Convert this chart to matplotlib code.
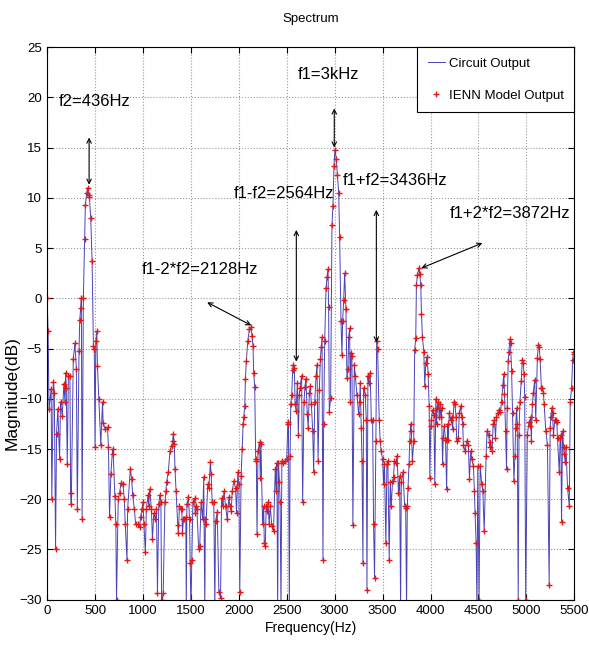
import matplotlib.pyplot as plt

plt.rcParams['font.family'] = ['Liberation Sans', 'DejaVu Sans']

# spectrum (Hz, dB); circuit and model outputs overlap
freq_hz = [
    0, 10, 20, 42, 49, 65, 75, 88, 98, 112, 130, 140, 158, 175, 186, 193, 200, 210, 222, 238,
    245, 252, 273, 290, 305, 315, 333, 340, 350, 357, 365, 378, 392, 399, 413, 423, 434, 441, 455, 469,
    483, 492, 500, 508, 518, 525, 540, 560, 578, 584, 605, 630, 640, 651, 665, 683, 690, 707, 717, 724,
    742, 756, 770, 791, 805, 815, 833, 840, 868, 882, 893, 910, 924,
    947, 965, 975, 989, 1000, 1010, 1025, 1035, 1053, 1060, 1070, 1088, 1099, 1113, 1130, 1141, 1151, 1165, 1176, 1187,
    1195, 1200, 1211, 1229, 1240, 1246, 1264, 1282, 1299, 1310, 1317, 1327, 1334, 1345, 1363, 1370, 1380, 1398, 1405, 1412,
    1422, 1433, 1447, 1452, 1458, 1475, 1486, 1493, 1500, 1510, 1521, 1539, 1546, 1553, 1563, 1581, 1592, 1606, 1623, 1634,
    1645, 1651, 1658, 1676, 1687, 1704, 1711, 1722, 1739, 1750, 1757, 1775, 1792, 1810, 1820,
    1834, 1845, 1862, 1879, 1897, 1907, 1921, 1931, 1948, 1966, 1976, 1990, 2000, 2010, 2024, 2035, 2045, 2052, 2062, 2069,
    2079, 2093, 2110, 2128, 2138, 2148, 2155, 2166, 2176, 2183, 2190, 2200, 2217, 2224, 2231, 2248, 2259, 2266, 2276, 2286,
    2293, 2304, 2317, 2328, 2345, 2362, 2380, 2390, 2397, 2405, 2414, 2424, 2431, 2440, 2449, 2466, 2483, 2500, 2511, 2518,
    2527, 2535, 2542, 2552, 2562, 2569, 2580, 2587, 2597, 2611, 2621, 2631, 2638, 2655, 2666, 2680, 2690, 2700, 2714, 2724,
    2736, 2747, 2757, 2771, 2781, 2792, 2806, 2816, 2827, 2840, 2851, 2861, 2868, 2878, 2885, 2896, 2910, 2920, 2930, 2937,
    2944, 2958, 2972, 2982, 2993, 3003, 3017, 3028, 3042, 3052, 3066, 3076, 3083, 3094, 3104, 3118, 3128, 3139, 3146, 3156,
    3163, 3170, 3180, 3190, 3205, 3215, 3232, 3250, 3260, 3267, 3278, 3285, 3295, 3302, 3319, 3330, 3337, 3347, 3354, 3371,
    3382, 3396, 3406, 3416, 3430, 3438, 3448, 3465, 3475, 3486, 3500, 3510, 3520, 3534, 3545, 3555, 3569, 3580, 3590, 3604,
    3614, 3624, 3638, 3652, 3666, 3678, 3688, 3695, 3713, 3730, 3741, 3750, 3758, 3765, 3776, 3783, 3793, 3800, 3811, 3825,
    3835, 3846, 3853, 3864, 3878, 3888, 3898, 3906, 3916, 3930, 3940, 3951, 3965, 3975, 3986, 3993, 4003, 4010, 4021, 4035,
    4045, 4056, 4063, 4070, 4080, 4091, 4098, 4108, 4115, 4126, 4133, 4143, 4157, 4168, 4178, 4185, 4196, 4210, 4220, 4231,
    4245, 4255, 4266, 4273, 4290, 4301, 4315, 4325, 4336, 4343, 4360, 4378, 4395, 4406, 4420, 4430, 4448, 4458, 4465, 4476,
    4485, 4493, 4507, 4518, 4535, 4546, 4560, 4580, 4590, 4608, 4618, 4625, 4643, 4653, 4667, 4678, 4688, 4703, 4713, 4730,
    4741, 4755, 4765, 4772, 4783, 4793, 4800, 4811, 4818, 4828, 4835, 4846, 4856, 4870, 4881, 4888, 4898, 4905, 4915, 4923,
    4933, 4947, 4958, 4968, 4975, 4983, 4993, 5010, 5028, 5038, 5045, 5052, 5063, 5073, 5087, 5098, 5115, 5126, 5133, 5143,
    5157, 5168, 5178, 5185, 5203, 5220, 5238, 5248, 5255, 5266, 5273, 5283, 5297, 5307, 5318, 5325, 5343, 5353, 5360, 5367,
    5378, 5388, 5395, 5406, 5413, 5430, 5448, 5458, 5472, 5483, 5493, 5500,
]
mag_db = [
    0, -3.3, -11, -9, -20, -8.3, -9.4, -25, -13.5, -11, -16, -10.3, -11.7, -8.5, -10.3, -7.4, -8.9, -16.5, -7.7, -7.7,
    -19.4, -20.5, -6, -4.5, -7, -21, -5.2, -2.2, -1.0, 0, -22, 0, 5.9, 9.3, 10.5, 11.0, 10.3, 10.1, 8, 3.7,
    -4.7, -5, -14.8, -4.3, -3.3, -6.7, -10, -14.6, -10.3, -12.4, -13, -12.8, -14.8, -21.8, -17.5, -15, -15.5, -19.7, -22.5, -30,
    -20, -19.4, -18.4, -18.5, -20, -22.5, -26, -21, -17, -18, -19.6, -21, -22.5,
    -22.5, -22.8, -21.8, -21, -20.3, -22.5, -25.3, -21, -19.6, -20.7, -19, -21, -24, -21.4, -22, -21, -29.3, -20.5, -19.6, -20.3,
    -31, -30, -29.3, -20.3, -19.2, -18.3, -17.3, -15.2, -14.7, -14.2, -13.5, -14.5, -17, -19.2, -22.6, -23.4, -20.7, -21, -21, -23.4,
    -22, -22, -21.8, -31, -20.5, -19.8, -22, -26.3, -31, -26, -20.3, -19.9, -21.4, -20.7, -21, -25, -24.7, -20.3, -22, -17.8,
    -31, -22, -22.5, -18.5, -18.9, -16.3, -17.5, -20.3, -20.3, -31, -22.2, -21.3, -29.2, -29.8, -19.9,
    -20.7, -19.2, -20.7, -22, -19.8, -20.7, -21.2, -19.2, -18.2, -18.9, -21.4, -17.3, -18.5, -29.2, -17.7, -15, -12.5, -11.8, -10.7, -8,
    -6.2, -4.3, -3.1, -2.9, -3.8, -4.7, -7.4, -8.8, -16, -16.2, -23.5, -15.2, -14.3, -17.9, -14.5, -22.5, -20.7, -24.4, -24.7, -20.7,
    -21.2, -20.3, -22.5, -20.7, -22.7, -23.2, -17, -19.2, -16.4, -31, -16.4, -18.3, -20.3, -31, -16.2, -16.4, -16.2, -16, -12.5, -12.3,
    -31, -15.7, -10.5, -9.6, -7.1, -6.6, -6.9, -10.5, -11.2, -8.4, -13.6, -9.6, -8.9, -7.7, -20.3, -10.3, -8.8, -8, -11.5, -12.9,
    -9.4, -8.7, -10.5, -13.2, -17.3, -10.3, -7.7, -6.6, -16.2, -9.1, -6, -4.8, -3.9, -26, -12.5, -4.3, 1, 2.1, 2.9, -0.9,
    -11.3, -9.9, 7.3, 9.2, 13.2, 14.8, 13.9, 12.3, 10.5, 6.1, -2.3, -5.6, -2.3, -0.2, 2.5, -1.1, -7.9, -7, -3.9, -3,
    -10.3, -5.4, -5.7, -22.6, -6.6, -7.7, -9.6, -11.5, -10.3, -8.4, -12.9, -16.2, -26.3, -8.9, -9.6, -12.1, -29, -7.7, -8.4, -7.4,
    -12.1, -12.1, -22.5, -27.8, -14.2, -4.3, -5, -12.1, -14.2, -15.2, -16, -18.5, -16.5, -24.4, -16.5, -16.2, -26, -18.3, -20.7, -18.2,
    -17.8, -16.2, -16.4, -15.7, -19.4, -17.7, -31, -18.3, -17.3, -20.7, -20.9, -31, -20.7, -18.9, -16.5, -14.2, -12.5, -13.2, -16.2, -14.2,
    -5.1, -4, 1.3, 2.3, 3, 2.4, 1.3, -1.6, -3.9, -5.3, -8.7, -6.4, -5.8, -7.5, -10.7, -17.9, -12.7, -12.1, -11.1, -11.6,
    -18.5, -10, -12.5, -10.9, -10.3, -11.8, -10.5, -11.8, -10.9, -16.5, -13.9, -12.7, -14.1, -19, -12.5, -14.1, -11.4, -12.1, -11.8, -13,
    -10.3, -10.5, -11.8, -14.2, -13.9, -11.4, -10.7, -11.8, -12.5, -14.6, -15.2, -14.2, -14.6, -18, -15.2, -16, -16.7, -19.2, -21.4, -24.4,
    -31, -16.7, -30, -16.7, -18.5, -19.2, -23.2, -15.7, -13.2, -13.6, -14.8, -14.3, -15.2, -12.5, -12.1, -13.9, -11.8, -11.4, -11.1, -11.3,
    -10.3, -8.6, -7.5, -9.5, -13.2, -17, -10.9, -6.2, -5.3, -4.1, -4.5, -7.2, -11.4, -18.2, -15.7, -12.9, -10.9, -12.5, -30, -13.6,
    -10.3, -8.2, -6.1, -6.4, -7.5, -9.8, -30, -13.6, -12.3, -12.7, -11.8, -14.2, -10.5, -9.4, -8.1, -12.1, -5.9, -4.6, -4.8, -6,
    -8.9, -8.9, -9.4, -10.5, -13.2, -14.6, -28.5, -12.9, -11.8, -10.9, -11.4, -13.6, -12.1, -12.1, -12.3, -13.9, -17.3, -13.9, -13.6, -22.3,
    -13.2, -14.8, -15.5, -16.3, -14.8, -18.9, -20.7, -10.3, -8.9, -6.1, -5.3, -5.5,
]

# annotation labels: (text, x, y) and arrows: (x_start, y_start, x_end, y_end)
labels = [
    ("f2=436Hz", 500, 19.6),
    ("f1=3kHz", 2940, 22.3),
    ("f1-f2=2564Hz", 2470, 10.4),
    ("f1+f2=3436Hz", 3625, 11.7),
    ("f1-2*f2=2128Hz", 1600, 2.9),
    ("f1+2*f2=3872Hz", 4835, 8.4),
]
arrows = [
    (438, 16.0, 438, 11.3),
    (2996, 18.9, 2996, 15.0),
    (2600, 6.8, 2600, -6.3),
    (3435, 8.8, 3435, -4.4),
    (1670, -0.4, 2130, -2.7),
    (4541, 5.5, 3904, 3.0),
]

fig = plt.figure(figsize=(5.89, 6.54), dpi=100)
ax = fig.add_axes([0.080, 0.083, 0.895, 0.845])

ax.plot(freq_hz, mag_db, color='#4a42b8', lw=0.7, label='Circuit Output')
ax.plot(freq_hz, mag_db, ls='none', marker='+', ms=4, mew=1.0, color='#e01818',
        label='IENN Model Output')

for txt, x, y in labels:
    ax.text(x, y, txt, fontsize=12, ha='center', va='center')
for x0, y0, x1, y1 in arrows:
    ax.annotate('', xy=(x1, y1), xytext=(x0, y0),
                arrowprops=dict(arrowstyle='<->', color='black', lw=0.8,
                                mutation_scale=8, shrinkA=0, shrinkB=0))

ax.set_xlim(0, 5500)
ax.set_ylim(-30, 25)
ax.set_xticks(range(0, 5501, 500))
ax.set_yticks(range(-30, 26, 5))
ax.tick_params(direction='in', top=True, right=True, labelsize=9.5, length=4, pad=4)
ax.grid(True, ls=':', color='#999999', lw=0.8)

ax.set_title('Spectrum', fontsize=9.5, pad=18)
ax.set_xlabel('Frequency(Hz)', fontsize=10, labelpad=3)
ax.set_ylabel('Magnitude(dB)', fontsize=12.5)
ax.yaxis.set_label_coords(-0.053, 0.374)

leg = ax.legend(loc='upper right', borderaxespad=0, fancybox=False, framealpha=1,
                edgecolor='black', fontsize=9.5, handlelength=1.3, handletextpad=0.3,
                borderpad=0.8, labelspacing=1.5)
leg.get_frame().set_linewidth(0.8)

plt.savefig('out.png')
